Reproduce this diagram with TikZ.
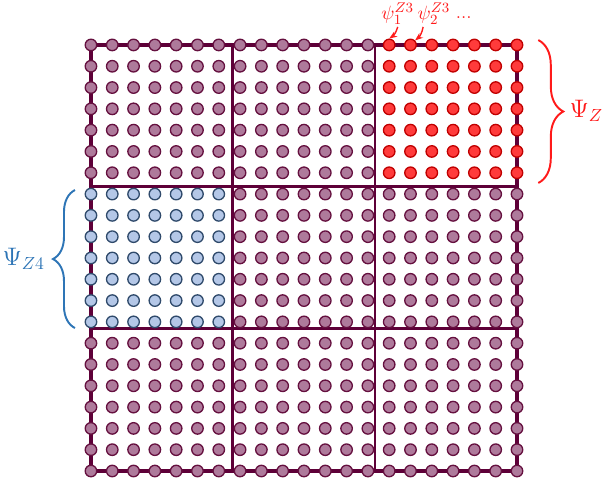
\documentclass[tikz,border=0pt]{standalone}
\usepackage{xcolor}
\definecolor{gridLine}    {HTML}{5E0038}
\definecolor{dotFill}     {HTML}{AE7A9B}
\definecolor{dotEdge}     {HTML}{65103F}
\definecolor{zoneRed}     {HTML}{FF3B3B}
\definecolor{zoneRedEdge} {HTML}{C00000}
\definecolor{labelRed}    {HTML}{FF1A1A}
\definecolor{zoneBlue}    {HTML}{B4C7E7}
\definecolor{zoneBlueEdge}{HTML}{2F4A6B}
\definecolor{labelBlue}   {HTML}{2E75B6}
\usetikzlibrary{arrows.meta, decorations.pathreplacing}
\tikzset{
    gpoint/.style={circle, draw=dotEdge, fill=dotFill, minimum size=2.3mm,
                   inner sep=0pt, line width=0.75pt},
    gred/.style={gpoint, draw=zoneRedEdge, fill=zoneRed},
    gblue/.style={gpoint, draw=zoneBlueEdge, fill=zoneBlue},
    outline/.style={draw=gridLine, line width=2pt},
    split/.style={draw=gridLine, line width=1.7pt},
    zbrace/.style={decorate, decoration={brace, amplitude=#1}, line width=1.1pt},
    ptr/.style={-{Stealth[length=1.6mm]}, labelRed, line width=0.8pt},
    plabel/.style={font=\fontsize{11}{13}\selectfont, text=labelRed, inner sep=1pt},
    zlabel/.style={font=\fontsize{14}{16}\selectfont, inner sep=0pt},
}

\begin{document}
\begin{tikzpicture}[x=0.426cm, y=-0.426cm]
    \useasboundingbox (-4.27,-2.11) rectangle (23.99,20.66);
    % block borders
    \draw[split] (20/3,0) -- (20/3,20) (40/3,0) -- (40/3,20)
                 (0,20/3) -- (20,20/3) (0,40/3) -- (20,40/3);
    \draw[outline] (0,0) rectangle (20,20);
    % grid points, zone Z3 (top right) and zone Z4 (middle left)
    \foreach \i in {0,...,20}
      \foreach \j in {0,...,20} {
        \tikzset{gnow/.style={gpoint}}
        \ifnum\i>13 \ifnum\j<7 \tikzset{gnow/.style={gred}}\fi\fi
        \ifnum\i<7 \ifnum\j>6 \ifnum\j<14 \tikzset{gnow/.style={gblue}}\fi\fi\fi
        \node[gnow] (d-\i-\j) at (\i,\j) {};
      }
    % point labels
    \node[plabel] (p1) at (14.4,-1.45) {$\psi_1^{Z3}$};
    \node[plabel] (p2) at (16.1,-1.45) {$\psi_2^{Z3}$};
    \node[plabel] (pdots) at (17.5,-1.3) {...};
    \draw[ptr] (p1.south) to[bend left=20] (d-14-0.north);
    \draw[ptr] (p2.230) to[bend left=20] (d-15-0.north east);
    % zone braces
    \coordinate (z3top) at (21,-0.23);
    \coordinate (z3bot) at (21,6.48);
    \draw[zbrace=0.5cm, labelRed] (z3top) -- (z3bot);
    \node[zlabel, text=labelRed, anchor=west] (psiz3) at (22.45,3.1) {$\Psi_{Z3}$};
    \coordinate (z4bot) at (-0.75,13.29);
    \coordinate (z4top) at (-0.75,6.81);
    \draw[zbrace=0.44cm, labelBlue] (z4bot) -- (z4top);
    \node[zlabel, text=labelBlue, anchor=east] (psiz4) at (-2.15,10.05) {$\Psi_{Z4}$};
\end{tikzpicture}
\end{document}
